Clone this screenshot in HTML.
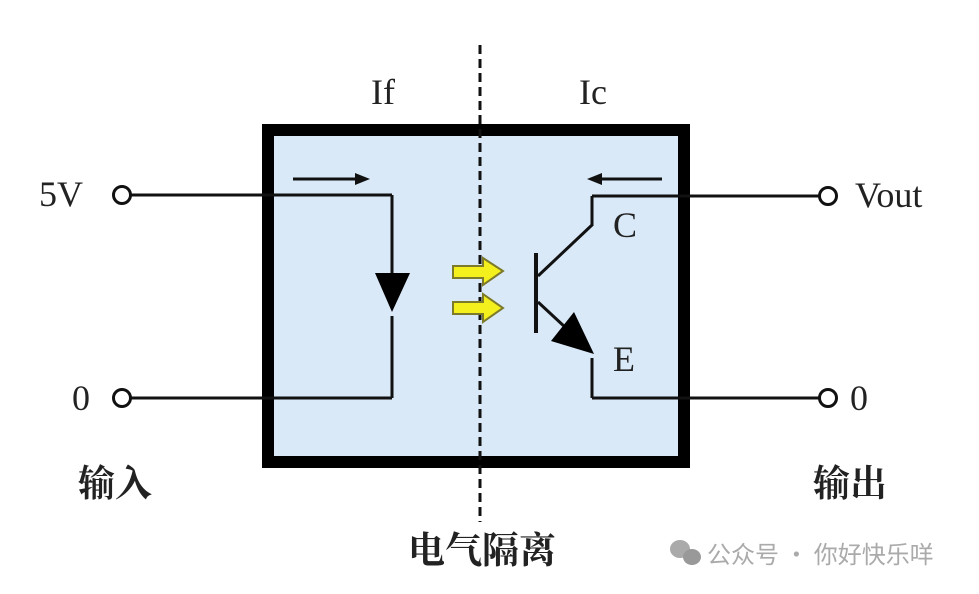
<!DOCTYPE html>
<html><head><meta charset="utf-8"><style>
html,body{margin:0;padding:0;background:#fff;}
svg{display:block;}
</style></head><body>
<svg width="979" height="594" viewBox="0 0 979 594" xmlns="http://www.w3.org/2000/svg">
<rect x="0" y="0" width="979" height="594" fill="#fff"/>
<rect x="268" y="130" width="416" height="332" fill="#d9e9f8" stroke="#000" stroke-width="12"/>
<g stroke="#111" stroke-width="3" fill="none">
<line x1="131" y1="195" x2="392" y2="195"/>
<line x1="392" y1="195" x2="392" y2="275"/>
<line x1="392" y1="316" x2="392" y2="398"/>
<line x1="131" y1="398" x2="392" y2="398"/>
<circle cx="122" cy="195" r="8.5"/>
<circle cx="122" cy="398" r="8.5"/>
<line x1="592" y1="196" x2="819" y2="196"/>
<line x1="592" y1="196" x2="592" y2="226"/>
<line x1="592" y1="225" x2="538" y2="276"/>
<line x1="538" y1="302" x2="580" y2="341"/>
<line x1="592" y1="358" x2="592" y2="398"/>
<line x1="592" y1="398" x2="819" y2="398"/>
<circle cx="828" cy="196" r="8.5"/>
<circle cx="828" cy="398" r="8.5"/>
<line x1="536" y1="253" x2="536" y2="333" stroke-width="4"/>
<line x1="293" y1="179" x2="358" y2="179"/>
<line x1="600" y1="179" x2="662" y2="179"/>
</g>
<polygon points="355,173 370,179 355,185" fill="#111"/>
<polygon points="602,173 587,179 602,185" fill="#111"/>
<polygon points="375,273 410,273 392,312" fill="#000"/>
<polygon points="574,312 551,341 594,354" fill="#000"/>
<line x1="480" y1="45" x2="480" y2="522" stroke="#111" stroke-width="3" stroke-dasharray="9,5"/>
<g fill="#f4f01e" stroke="#7d7a2a" stroke-width="2">
<polygon points="453,266 483,266 483,258 503,271 483,285 483,278 453,278"/>
<polygon points="453,302 483,302 483,294 503,308 483,322 483,314 453,314"/>
</g>
<g font-family="Liberation Serif, serif" font-size="36" fill="#222">
<text x="39" y="206">5V</text>
<text x="72" y="410">0</text>
<text x="855" y="207">Vout</text>
<text x="850" y="410">0</text>
<text x="371" y="104">If</text>
<text x="579" y="104">Ic</text>
<text x="613" y="237">C</text>
<text x="613" y="371">E</text>
</g>
<g font-family="Liberation Serif, 'Noto Serif CJK SC', serif" font-size="37" font-weight="bold" fill="#222">
<text x="78" y="496">输入</text>
<text x="813" y="496">输出</text>
<text x="408" y="563">电气隔离</text>
</g>
<g fill="#aaa">
<ellipse cx="680" cy="549" rx="10" ry="9"/>
<ellipse cx="692" cy="557" rx="9" ry="8" fill="#999"/>
</g>
<text x="707" y="563" font-family="'Noto Sans CJK SC', sans-serif" font-size="24" fill="#aaa">公众号 · 你好快乐咩</text>
</svg>
</body></html>
